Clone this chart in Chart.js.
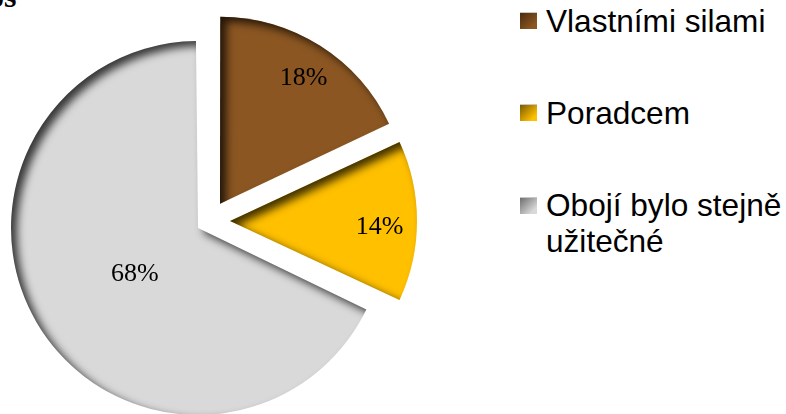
<!DOCTYPE html>
<html>
<head>
<meta charset="utf-8">
<script src="https://cdn.jsdelivr.net/npm/chart.js@4.4.0/dist/chart.umd.min.js"></script>
<style>
  html, body { margin: 0; padding: 0; background: #fff; overflow: hidden; }
  #wrap { position: relative; width: 786px; height: 414px; }
  #pie { position: absolute; left: 0; top: 0; }
  .frag { position: absolute; left: -12px; top: -20px; font: bold 32px "Liberation Serif", serif; line-height: 32px; color: #000; }
  .legend-dot { position: absolute; left: 520px; width: 17px; height: 17px; border-top: 1px solid #c8c8c8; box-sizing: border-box; }
  .legend-name { position: absolute; left: 546px; width: 240px; font: 31.6px "Liberation Sans", Arial, sans-serif; line-height: 36px; color: #000; }
</style>
</head>
<body>
<div id="wrap">
  <div class="frag">os</div>
  <canvas id="pie" width="420" height="414"></canvas>
  <div id="legend"></div>
</div>
<script>
// ---------------- data ----------------
const labels = ["Vlastními silami", "Poradcem", "Obojí bylo stejně užitečné"];
const values = [18, 14, 68];
const colors = ["#8b5622", "#ffc000", "#d9d9d9"];
const darkColors = ["#4a2c0e", "#7a5a00", "#6e6e6e"];

// vzhled (ne data)
const PIE_RADIUS = 187;
const sliceOffsets = [82, 84, 52];
const labelPos = [0.835, 0.8, 0.4];
const legendDotTop = [12, 104, 197];
const legendTextTop = [3, 95, 187];

function arcGeometry(arc) {
  const off = (arc.options.offset || 0) / 4;
  const fix = 1 - Math.sin(Math.min(Math.PI, arc.circumference));
  return { off, radiusOffset: off * fix };
}

// vsechny vysece stejne velke, i kdyz jsou vysunute
const equalRadius = {
  id: "equalRadius",
  beforeDatasetsDraw(chart) {
    chart.getDatasetMeta(0).data.forEach((arc) => {
      arc.outerRadius = PIE_RADIUS - arcGeometry(arc).radiusOffset;
    });
  },
};

// vnitrni stin + popisky procent
const sliceDecor = {
  id: "sliceDecor",
  afterDatasetsDraw(chart) {
    const ctx = chart.ctx;
    const meta = chart.getDatasetMeta(0);
    const total = values.reduce((a, b) => a + b, 0);
    const far = 5000;
    meta.data.forEach((arc, i) => {
      const { off, radiusOffset } = arcGeometry(arc);
      const mid = (arc.startAngle + arc.endAngle) / 2;
      const cx = arc.x + Math.cos(mid) * off;
      const cy = arc.y + Math.sin(mid) * off;
      const r = arc.outerRadius + radiusOffset;
      const alpha = arc.endAngle - arc.startAngle;
      const beta = Math.max(0.001, alpha * r - radiusOffset / Math.PI) / r;
      const a0 = arc.startAngle + (alpha - beta) / 2;
      const a1 = arc.endAngle - (alpha - beta) / 2;

      ctx.save();
      ctx.beginPath();
      ctx.moveTo(cx, cy);
      ctx.arc(cx, cy, r, a0, a1);
      ctx.closePath();
      ctx.clip();
      // cerna plocha je mimo obrazovku, dovnitr padne jen stin
      ctx.beginPath();
      ctx.rect(-3000 + far, -3000, 6000, 6000);
      ctx.moveTo(cx + far, cy);
      ctx.arc(cx + far, cy, r, a0, a1);
      ctx.closePath();
      ctx.fillStyle = "#000";
      ctx.shadowColor = "rgba(0,0,0,0.75)";
      ctx.shadowBlur = 9;
      ctx.shadowOffsetX = -far + 6;
      ctx.shadowOffsetY = 5;
      ctx.fill("evenodd");
      ctx.restore();

      const pct = Math.round((values[i] / total) * 100) + "%";
      ctx.save();
      ctx.font = '26px "Liberation Serif", serif';
      ctx.fillStyle = "#000";
      ctx.textAlign = "center";
      ctx.textBaseline = "middle";
      ctx.fillText(pct, cx + Math.cos(mid) * labelPos[i] * r, cy + Math.sin(mid) * labelPos[i] * r + 6);
      ctx.restore();
    });
  },
};

new Chart(document.getElementById("pie").getContext("2d"), {
  type: "pie",
  data: {
    labels,
    datasets: [{
      data: values,
      backgroundColor: colors,
      borderWidth: 0,
      offset: sliceOffsets,
      hoverOffset: 0,
      clip: false,
    }],
  },
  options: {
    responsive: false,
    animation: false,
    devicePixelRatio: 1,
    radius: PIE_RADIUS,
    layout: { padding: { top: 28, right: 2, left: 0, bottom: 0 } },
    plugins: { legend: { display: false }, tooltip: { enabled: false } },
    events: [],
  },
  plugins: [equalRadius, sliceDecor],
});

// legenda
document.getElementById("legend").innerHTML = labels
  .map((label, i) => `
    <div class="legend-dot" style="top:${legendDotTop[i]}px;background:linear-gradient(135deg, ${darkColors[i]} 0%, ${colors[i]} 80%)"></div>
    <div class="legend-name" style="top:${legendTextTop[i]}px">${label}</div>`)
  .join("");
</script>
</body>
</html>
